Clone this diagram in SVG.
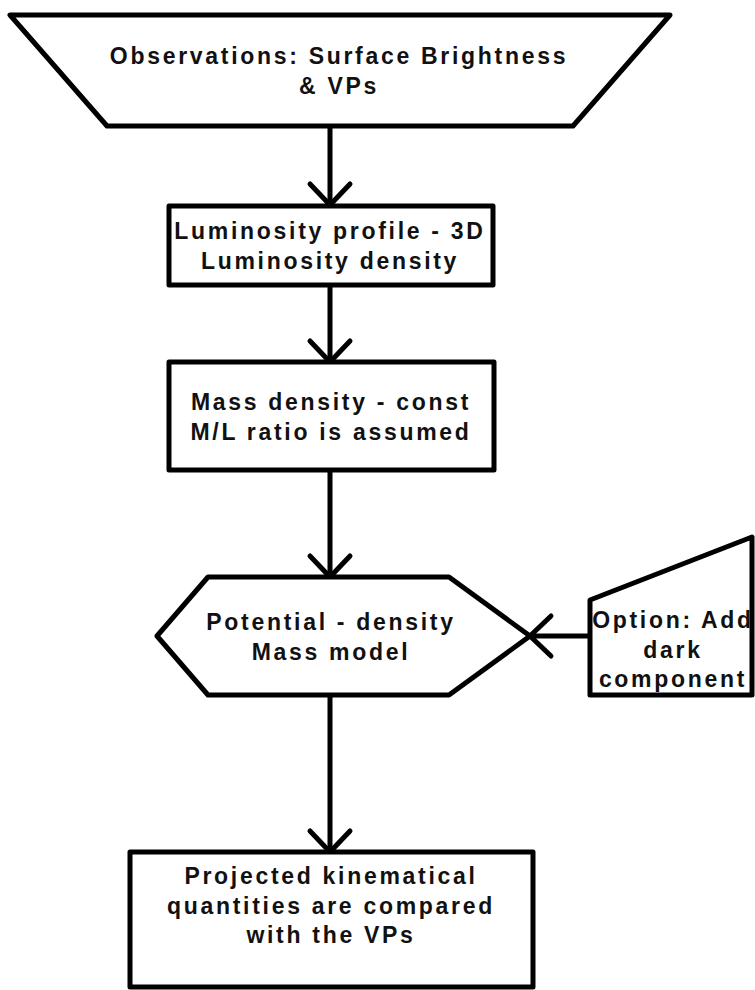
<svg xmlns="http://www.w3.org/2000/svg" width="755" height="990" viewBox="0 0 755 990">
<defs>
<marker id="arr" markerUnits="userSpaceOnUse" markerWidth="50" markerHeight="50" refX="0" refY="0" orient="auto" viewBox="-30 -25 35 50" overflow="visible">
<path d="M -21 -20 L 0 0 L -21 20" fill="none" stroke="#000" stroke-width="5" stroke-linecap="round" stroke-linejoin="round"/>
</marker>
<style>
.s{fill:#fff;stroke:#000;stroke-width:5;stroke-linejoin:round}
.t{font-family:"Liberation Sans",Arial,Helvetica,sans-serif;font-weight:bold;font-size:23px;letter-spacing:2.7px;text-anchor:middle;fill:#111}
.c{fill:none;stroke:#000;stroke-width:5;stroke-linecap:round}
</style>
</defs>
<rect width="755" height="990" fill="#fff"/>
<g id="connectors">
<line class="c" x1="330" y1="126" x2="330" y2="205" marker-end="url(#arr)"/>
<line class="c" x1="330" y1="285" x2="330" y2="362" marker-end="url(#arr)"/>
<line class="c" x1="330" y1="470" x2="330" y2="577" marker-end="url(#arr)"/>
<line class="c" x1="330" y1="695" x2="330" y2="852" marker-end="url(#arr)"/>
<line class="c" x1="590" y1="636" x2="530" y2="636" marker-end="url(#arr)"/>
</g>
<g id="observations">
<polygon class="s" points="10,15 670,15 573,126 107,126"/>
<text class="t" x="339" y="64">Observations: Surface Brightness</text>
<text class="t" x="339" y="94">&amp; VPs</text>
</g>
<g id="luminosity">
<rect class="s" x="169" y="206" width="324" height="79"/>
<text class="t" x="330" y="239">Luminosity profile - 3D</text>
<text class="t" x="330" y="269">Luminosity density</text>
</g>
<g id="mass-density">
<rect class="s" x="169" y="362" width="325" height="108"/>
<text class="t" x="331" y="410">Mass density - const</text>
<text class="t" x="331" y="440">M/L ratio is assumed</text>
</g>
<g id="potential">
<polygon class="s" points="157,636 208,577 449,577 530,636 449,695 208,695"/>
<text class="t" x="331" y="630">Potential - density</text>
<text class="t" x="331" y="660">Mass model</text>
</g>
<g id="option">
<polygon class="s" points="590,600 752,537 752,695 590,695"/>
<text class="t" x="673" y="628">Option: Add</text>
<text class="t" x="673" y="658">dark</text>
<text class="t" x="673" y="687">component</text>
</g>
<g id="projected">
<rect class="s" x="130" y="852" width="403" height="135"/>
<text class="t" x="331" y="884">Projected kinematical</text>
<text class="t" x="331" y="914">quantities are compared</text>
<text class="t" x="331" y="943">with the VPs</text>
</g>
</svg>
